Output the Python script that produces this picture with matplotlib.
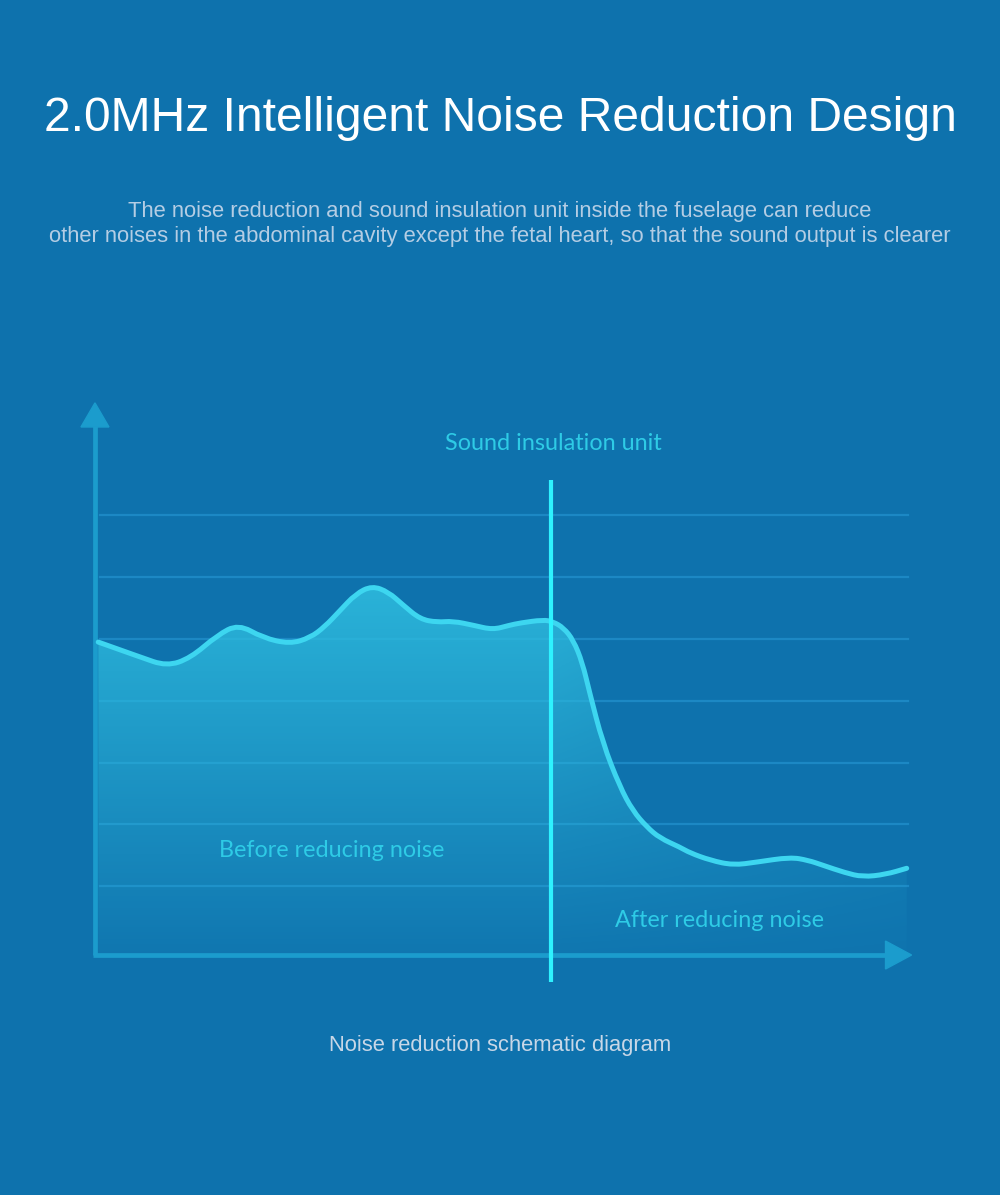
import numpy as np
import matplotlib.pyplot as plt
from matplotlib.patches import Polygon, PathPatch
from matplotlib.path import Path

# noise curve (x: 0-100 along the axis, y: grid units)
curve_x = [0.4, 5.5, 8.8, 11.7, 15.0, 17.6, 20.6, 23.9, 26.4, 28.2, 30.0, 32.0, 34.0,
           36.0, 37.8, 39.9, 42.0, 43.9, 46.5, 48.8, 50.8, 52.2, 55.0, 56.2, 57.5,
           58.7, 59.8, 60.7, 62.3, 64.4, 66.0, 67.7, 69.3, 71.8, 73.0, 75.5, 78.3,
           81.2, 85.3, 87.5, 89.3, 92.0, 94.2, 97.0, 99.6]
curve_y = [4.95, 4.71, 4.56, 4.69, 5.06, 5.24, 5.02, 4.92, 5.02, 5.20, 5.45, 5.73, 5.86,
           5.76, 5.55, 5.32, 5.27, 5.29, 5.22, 5.15, 5.22, 5.26, 5.31, 5.28, 5.18,
           4.98, 4.62, 4.13, 3.32, 2.61, 2.22, 1.96, 1.78, 1.63, 1.54, 1.42, 1.34,
           1.39, 1.47, 1.42, 1.34, 1.22, 1.15, 1.19, 1.29]
grid_levels = [1, 2, 3, 4, 5, 6, 7]
divider_x = 55.95

title = "2.0MHz Intelligent Noise Reduction Design"
subtitle = ["The noise reduction and sound insulation unit inside the fuselage can reduce",
            "other noises in the abdominal cavity except the fetal heart, so that the sound output is clearer"]
caption = "Noise reduction schematic diagram"


def smooth_path(xs, ys, close_at=None):
    # quadratic segments through midpoints, the read points act as controls
    pts = list(zip(xs, ys))
    verts = [pts[0]]
    codes = [Path.MOVETO]
    for i in range(1, len(pts) - 1):
        mid = ((pts[i][0] + pts[i + 1][0]) / 2, (pts[i][1] + pts[i + 1][1]) / 2)
        verts += [pts[i], mid]
        codes += [Path.CURVE3, Path.CURVE3]
    verts.append(pts[-1])
    codes.append(Path.LINETO)
    if close_at is not None:
        verts += [(xs[-1], close_at), (xs[0], close_at), pts[0]]
        codes += [Path.LINETO, Path.LINETO, Path.CLOSEPOLY]
    return Path(verts, codes)


bg = "#0e72ad"
fig = plt.figure(figsize=(10, 11.95), dpi=100, facecolor=bg)
ax = fig.add_axes([0.06, 0.16318, 0.9, 0.51883])
ax.set_facecolor(bg)
ax.set_xlim(-4.29, 106.14)
ax.set_ylim(-0.841, 9.19)
ax.axis("off")

# grid
for g in grid_levels:
    ax.plot([0.6, 99.75], [g, g], color="#1c88c4", lw=1.6, zorder=1)

# gradient fill under the curve
nx, ny = 300, 200
gx = np.linspace(0, 100, nx)
gy = np.linspace(-0.1, 6.0, ny)
GX, GY = np.meshgrid(gx, gy)
a_y = 0.08 + 0.85 * (GY / 6.0)
a_x = np.where(GX < 56, 1.0, 1.0 - 0.55 * (GX - 56) / 44)
img = np.zeros((ny, nx, 4))
img[..., 0] = 0.18
img[..., 1] = 0.73
img[..., 2] = 0.87
img[..., 3] = np.clip(a_y * a_x, 0, 1)
im = ax.imshow(img, extent=[0, 100, -0.1, 6.0], origin="lower", aspect="auto", zorder=2)
fill_patch = PathPatch(smooth_path(curve_x, curve_y, close_at=-0.1), transform=ax.transData,
                       facecolor="none", edgecolor="none")
ax.add_patch(fill_patch)
im.set_clip_path(fill_patch)

# curve
ax.add_patch(PathPatch(smooth_path(curve_x, curve_y), facecolor="none", edgecolor="#3dd6f0",
                       lw=3.6, capstyle="round", joinstyle="round", zorder=4))

# axes with arrows
axis_c = "#1b9ccd"
ax.plot([0, 0], [-0.113, 8.45], color=axis_c, lw=3.4, zorder=3, solid_capstyle="butt")
ax.plot([-0.2, 97.0], [-0.113, -0.113], color=axis_c, lw=3.4, zorder=3, solid_capstyle="butt")
ax.add_patch(Polygon([[-1.72, 8.43], [1.72, 8.43], [0, 8.82]], closed=True,
                     color=axis_c, zorder=3, clip_on=False))
ax.add_patch(Polygon([[97.0, 0.113], [97.0, -0.34], [100.2, -0.113]], closed=True,
                     color=axis_c, zorder=3, clip_on=False))

# sound insulation divider
ax.plot([divider_x, divider_x], [-0.55, 7.57], color="#2ef2ff", lw=3.0, zorder=5,
        solid_capstyle="butt")

lab_font = dict(family=["Lato", "DejaVu Sans"], color="#2ecbe6", fontsize=16.8)
ax.text(56.3, 8.16, "Sound insulation unit", ha="center", va="center", **lab_font)
ax.text(29.08, 1.57, "Before reducing noise", ha="center", va="center", **lab_font)
ax.text(76.69, 0.453, "After reducing noise", ha="center", va="center", **lab_font)

sans = ["Liberation Sans", "DejaVu Sans"]
fig.text(0.5, 0.9008, title, ha="center", va="center", color="white", fontsize=34.6, family=sans)
fig.text(0.5, 0.8233, subtitle[0], ha="center", va="center", color="#b4cde4", fontsize=15.8,
         family=sans)
fig.text(0.5, 0.8025, subtitle[1], ha="center", va="center", color="#b4cde4", fontsize=15.8,
         family=sans)
fig.text(0.5, 0.1255, caption, ha="center", va="center", color="#c8d7e7", fontsize=15.8,
         family=sans)

fig.savefig("out.png", dpi=100, facecolor=bg)
